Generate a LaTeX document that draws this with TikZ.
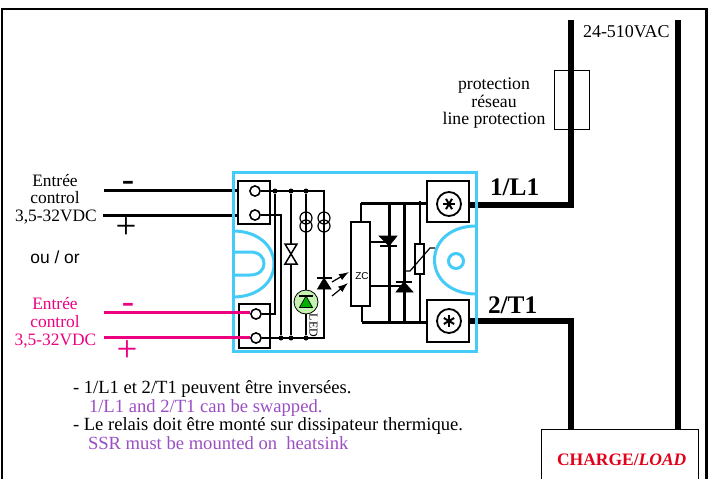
\documentclass[tikz,border=0pt]{standalone}
\usepackage{fontspec}
\usetikzlibrary{arrows.meta}
\setmainfont{Liberation Serif}
\newfontfamily\arialf{Liberation Sans}
\definecolor{bluec}{HTML}{45CBF8}
\definecolor{pinkc}{HTML}{EC0080}
\definecolor{purplec}{HTML}{9B4FC4}
\definecolor{redc}{HTML}{E2001A}
\definecolor{ledc}{HTML}{C4F2B0}
\definecolor{ledg}{HTML}{00B000}
\tikzset{
  txt/.style={inner sep=0pt,outer sep=0pt,anchor=base,font=\fontsize{17.4}{17.4}\selectfont},
  ltxt/.style={txt,anchor=base west},
  note/.style={ltxt,font=\fontsize{18.6}{18.6}\selectfont},
  big/.style={txt,font=\fontsize{37}{37}\selectfont},
  lbl/.style={ltxt,font=\fontsize{25.3}{25.3}\selectfont\bfseries},
  term/.style={draw=black,line width=1.7pt,fill=white,inner sep=0pt,minimum width=#1},
  hole/.style={circle,draw=black,line width=1.4pt,fill=white,inner sep=0pt,minimum size=10pt},
  screw/.style={circle,draw=black,line width=1.8pt,fill=white,inner sep=0pt,minimum size=24pt},
  src/.style={circle,draw=black,line width=1.2pt,inner sep=0pt,minimum size=12pt},
  dot/.style={circle,fill=black,inner sep=0pt,minimum size=5pt},
  fil/.style={fill=black,draw=black,line width=.6pt},
  wire/.style={line width=1.5pt},
  hv/.style={line width=3pt},
  pw/.style={line width=6pt,line join=miter},
  ctl/.style={line width=3pt},
  bl/.style={draw=bluec,line width=3pt}
}
\begin{document}
\begin{tikzpicture}[x=1pt,y=-1pt]
\useasboundingbox (0,0) rectangle (710,479);
\fill[white] (0,0) rectangle (710,479);
% frame
\draw[line width=2.4pt,black] (2,479) -- (2,9) -- (706.5,9) -- (706.5,479);
% terminal and fixed positions
\coordinate (busTL) at (324,191);
\coordinate (busBL) at (324,338);
\coordinate (busTR) at (361,203);
\coordinate (busBR) at (362,322);
\coordinate (lineA) at (571,20);
\coordinate (lineB) at (678,20);
\coordinate (c1) at (104,190);
\coordinate (c2) at (103,215);
\coordinate (p1) at (104,312);
\coordinate (p2) at (104,337);
% power lines
\node[draw=black,line width=1pt,minimum width=35pt,minimum height=59pt,inner sep=0pt] (fuse) at (571.5,99.5) {};
\node[draw=black,line width=1.4pt,fill=white,anchor=north west,minimum width=157pt,minimum height=55pt,inner sep=0pt] (load) at (541,429) {};
\node[term=42pt,minimum height=41pt] (TA) at (448,201.5) {};
\node[term=42pt,minimum height=42pt] (TB) at (448,321) {};
\draw[pw] (lineA) -- (571,205) -- (TA.east |- 0,205);
\draw[pw] (load.north -| 571,0) -- (571,321) -- (TB.east);
\draw[pw] (lineB) -- (load.north -| 678,0);
% control wires (black)
\draw[ctl] (c1) -- (240,190);
\draw[ctl] (c2) -- (240,215);
% blue outline
\draw[bl] (233,172) rectangle (476,351);
\draw[bl] (233,231) .. controls (258,231) and (274,246) .. (274,264) .. controls (274,282) and (258,297) .. (233,297);
\draw[bl] (233,252) -- (250,252) .. controls (259,252) and (264,257) .. (264,263.5) .. controls (264,270) and (259,275) .. (250,275) -- (233,275);
\draw[bl] (476,226) .. controls (451,226) and (434.5,241) .. (434.5,260) .. controls (434.5,279) and (451,294) .. (476,294);
\node[circle,bl,minimum size=15pt,inner sep=0pt] (lens) at (456,261) {};
% left terminals
\node[term=32pt,minimum height=43pt] (K1) at (254,202.5) {};
\node[term=31pt,minimum height=44pt] (K2) at (254.5,326) {};
\node[hole] (h1) at (255,191) {};
\node[hole] (h2) at (255,215) {};
\node[hole] (h3) at (256,314) {};
\node[hole] (h4) at (256,338) {};
% pink wires
\draw[ctl,pinkc] (p1) -- (h3.west |- p1);
\draw[ctl,pinkc] (p2) -- (h4.west |- p2);
% input network
\draw[wire] (h1) -- (busTL) -- (busBL) -- (h4);
\node[dot] (d1) at (275,191) {};
\node[dot] (d2) at (291,191) {};
\node[dot] (d3) at (306,191) {};
\node[dot] (d4) at (281,338) {};
\node[dot] (d5) at (291,338) {};
\node[dot] (d6) at (306,338) {};
\draw[wire] (d1) -- (275,314) -- (h3);
\draw[wire] (h2) -- (281,215) -- (d4);
\draw[wire] (d2) -- (d5);
\draw[wire] (d3) -- (d6);
\node[hole] at (255,191) {};
\node[hole] at (255,215) {};
\node[hole] at (256,314) {};
\node[hole] at (256,338) {};
% bidirectional
\draw[wire,fill=white] (285,244) -- (297,244) -- (285,264) -- (297,264) -- cycle;
% current sources
\foreach \nm/\x/\y in {sa/306/218,sb/306/226,sc/324/218,sd/324/226}
  \node[src] (\nm) at (\x,\y) {};
% LED
\node[circle,draw=black,line width=.8pt,fill=ledc,inner sep=0pt,minimum size=24pt] (led) at (306,302) {};
\draw[black,line width=.7pt,fill=ledg] (299.5,307.5) -- (312.5,307.5) -- (306,296) -- cycle;
\draw[wire] (299,296) -- (313,296);
\draw[wire] (d3) -- (led.north);
\draw[wire] (led.south) -- (d6);
\node[rotate=-90,inner sep=0pt,font=\fontsize{12}{12}\selectfont] (ledt) at (313.5,325.5) {LED};
% opto emitter
\draw[fil] (317.5,289) -- (331,289) -- (324,278) -- cycle;
\draw[wire] (317,278) -- (332,278);
\draw[line width=1.2pt,-{Latex[length=10pt,width=7pt]}] (332,282) -- (349,272);
\draw[line width=1.2pt,-{Latex[length=10pt,width=7pt]}] (332,296) -- (348,283);
% ZC
\node[draw=black,line width=1.2pt,fill=white,minimum width=19pt,minimum height=84pt,inner sep=0pt] (zc) at (360.5,264) {};
\node[inner sep=0pt,font=\arialf\fontsize{10}{10}\selectfont] (zct) at (362,276) {ZC};
% output network
\draw[hv] (TA.west |- busTR) -- (busTR);
\draw[wire] (busTR) -- (busTR |- zc.north);
\draw[hv] (TB.west |- busBR) -- (busBR);
\draw[wire] (busBR) -- (busBR |- zc.south);
\draw[hv] (389,203) -- (389,322);
\draw[hv] (404,203) -- (404,322);
\draw[wire] (420,201) -- (420,322);
\draw[fil] (379,236) -- (397,236) -- (389,246) -- cycle;
\draw[wire] (380,246) -- (397,246);
\draw[wire] (zc.east |- 0,242) -- (389,242);
\draw[fil] (396,292) -- (413,292) -- (404,282) -- cycle;
\draw[wire] (396,282) -- (412,282);
\draw[wire] (zc.east |- 0,286) -- (404,286);
\node[draw=black,line width=1.2pt,fill=white,minimum width=9pt,minimum height=30pt,inner sep=0pt] (var) at (419.5,259) {};
\draw[line width=1.2pt] (405,271) -- (410,271) -- (430,248) -- (435,248);
% screws
\node[screw] (s1) at (449,204) {};
\node[screw] (s2) at (449,321) {};
\foreach \a in {0,60,120}
  \draw[line width=2pt] (s1) ++(\a:6) -- ++(\a+180:12);
\foreach \a in {30,90,150}
  \draw[line width=2pt] (s2) ++(\a:6) -- ++(\a+180:12);
% text
\node[txt] at (55,186) {Entrée};
\node[txt] at (55,203) {control};
\node[txt] at (56,221) {3,5-32VDC};
\node[txt,font=\arialf\fontsize{17.4}{17.4}\selectfont] at (55,263) {ou / or};
\node[txt,text=pinkc] at (55,309) {Entrée};
\node[txt,text=pinkc] at (55,327) {control};
\node[txt,text=pinkc] at (55.5,345) {3,5-32VDC};
\node[big] at (128,191) {-};
\node[big] at (126,238) {+};
\node[big,text=pinkc] at (128,313) {-};
\node[big,text=pinkc] at (127,361) {+};
\node[lbl] at (490,195) {1/L1};
\node[lbl] at (488,313) {2/T1};
\node[ltxt,font=\fontsize{18}{18}\selectfont] at (583,37) {24-510VAC};
\node[txt,font=\fontsize{17.7}{17.7}\selectfont] at (494,89) {protection};
\node[txt,font=\fontsize{17.7}{17.7}\selectfont] at (494,107) {réseau};
\node[txt,font=\fontsize{17.7}{17.7}\selectfont] at (494,124) {line protection};
\node[note] at (73,393) {- 1/L1 et 2/T1 peuvent être inversées.};
\node[note,text=purplec] at (89,412) {1/L1 and 2/T1 can be swapped.};
\node[note] at (73,430) {- Le relais doit être monté sur dissipateur thermique.};
\node[note,text=purplec] at (88,449) {SSR must be mounted on\ \ heatsink};
\node[ltxt,text=redc,font=\fontsize{17.5}{17.5}\selectfont\bfseries] at (557,465) {CHARGE/\textit{LOAD}};
\end{tikzpicture}
\end{document}
